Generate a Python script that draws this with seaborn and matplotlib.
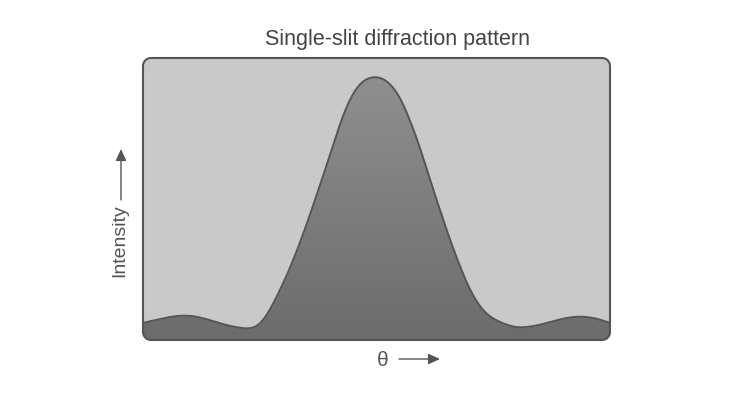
import numpy as np
import pandas as pd
import matplotlib
matplotlib.use("Agg")
import matplotlib.pyplot as plt
import seaborn as sns
from matplotlib.path import Path
from matplotlib.patches import PathPatch, FancyArrowPatch
from matplotlib.colors import LinearSegmentedColormap

# ---- data ----
theta = [-1.000, -0.927, -0.842, -0.777, -0.713, -0.649, -0.585, -0.542, -0.499,
         -0.456, -0.413, -0.370, -0.328, -0.285, -0.242, -0.199, -0.156, -0.113,
         -0.071, -0.028, 0.015, 0.058, 0.101, 0.143, 0.186, 0.229, 0.272, 0.315,
         0.358, 0.400, 0.443, 0.486, 0.529, 0.572, 0.615, 0.679, 0.743, 0.807,
         0.872, 0.936, 1.000]
intensity = [0.065, 0.080, 0.095, 0.091, 0.076, 0.057, 0.046, 0.042, 0.057,
             0.114, 0.190, 0.274, 0.369, 0.475, 0.589, 0.703, 0.825, 0.920,
             0.977, 1.000, 1.000, 0.977, 0.924, 0.837, 0.734, 0.608, 0.494, 0.380,
             0.278, 0.190, 0.125, 0.087, 0.068, 0.053, 0.046, 0.053, 0.068, 0.084,
             0.091, 0.084, 0.065]
title_text = "Single-slit diffraction pattern"
x_label = "θ"
y_label = "Intensity"


def basis_curve(xs, ys, n=12):
    """Render points with a uniform cubic B-spline (like d3.curveBasis)."""
    P = np.column_stack([xs, ys]).astype(float)
    P = np.vstack([P[:1], P[:1], P, P[-1:], P[-1:]])
    t = np.linspace(0, 1, n, endpoint=False)[:, None]
    out = []
    for i in range(len(P) - 3):
        p0, p1, p2, p3 = P[i], P[i + 1], P[i + 2], P[i + 3]
        b0 = (1 - t) ** 3 / 6
        b1 = (3 * t ** 3 - 6 * t ** 2 + 4) / 6
        b2 = (-3 * t ** 3 + 3 * t ** 2 + 3 * t + 1) / 6
        b3 = t ** 3 / 6
        out.append(b0 * p0 + b1 * p1 + b2 * p2 + b3 * p3)
    out.append(P[-1:])
    out = np.vstack(out)
    return out[:, 0], out[:, 1]


sx, sy = basis_curve(theta, intensity)
curve = pd.DataFrame({"theta": sx, "intensity": sy})

W, H = 750, 393
fig = plt.figure(figsize=(W / 100, H / 100), dpi=100)
fig.patch.set_facecolor("white")
L, R, T, B = 143, 610, 58, 340
ax = fig.add_axes([L / W, (H - B) / H, (R - L) / W, (B - T) / H])

ymax = 1.0722

# rounded box path in axes coords (circular corners in pixels)
r = 8.0
rx, ry = r / (R - L), r / (B - T)
def arc(cx, cy, a0, a1, n=16):
    a = np.linspace(np.radians(a0), np.radians(a1), n)
    return [(cx + rx * np.cos(t), cy + ry * np.sin(t)) for t in a]
pts = []
pts += arc(1 - rx, ry, -90, 0)
pts += arc(1 - rx, 1 - ry, 0, 90)
pts += arc(rx, 1 - ry, 90, 180)
pts += arc(rx, ry, 180, 270)
pts.append(pts[0])
box_path = Path(pts)
clip_patch = PathPatch(box_path, transform=ax.transAxes, facecolor="none",
                       edgecolor="none")
ax.add_patch(clip_patch)

# gradient under the curve
cmap = LinearSegmentedColormap.from_list("g", ["#6c6c6c", "#8f8f8f"])
grad = np.linspace(0, 1, 256).reshape(-1, 1)
im = ax.imshow(grad, extent=[-1, 1, 0, 1.0], origin="lower", aspect="auto",
               cmap=cmap, interpolation="bilinear", zorder=1)
im.set_clip_path(clip_patch)

# light region above the curve
fb = ax.fill_between(curve["theta"], curve["intensity"], ymax + 0.1,
                     color="#c9c9c9", lw=0, zorder=2)
fb.set_clip_path(clip_patch)

sns.lineplot(data=curve, x="theta", y="intensity", ax=ax, color="#555555",
             lw=1.4, sort=False, zorder=3, estimator=None)
ax.set_axis_off()
ax.set_xlim(-1, 1)
ax.set_ylim(0, ymax)

edge = PathPatch(box_path, transform=ax.transAxes, facecolor="none",
                 edgecolor="#555555", lw=1.5, zorder=4, clip_on=False)
ax.add_patch(edge)

font = ["Liberation Sans", "DejaVu Sans"]
fig.text(398 / W, 1 - 45 / H, title_text, ha="center", va="baseline",
         fontsize=15.5, color="#444444", family=font)

# y label with arrow
fig.text(120 / W, 1 - 241 / H, y_label, rotation=90, ha="center", va="center",
         fontsize=14, color="#555555", family=font)
fig.add_artist(FancyArrowPatch(
    (121 / W, 1 - 200 / H), (121 / W, 1 - 149 / H), transform=fig.transFigure,
    arrowstyle="-|>,head_length=3.5,head_width=1.6", color="#555555", lw=1.0,
    mutation_scale=2, shrinkA=0, shrinkB=0))

# x label with arrow
fig.text(383 / W, 1 - 360 / H, x_label, ha="center", va="center",
         fontsize=15, color="#555555", family=font)
fig.add_artist(FancyArrowPatch(
    (399 / W, 1 - 359 / H), (440 / W, 1 - 359 / H), transform=fig.transFigure,
    arrowstyle="-|>,head_length=3.5,head_width=1.6", color="#555555", lw=1.0,
    mutation_scale=2, shrinkA=0, shrinkB=0))

fig.savefig("out.png", dpi=100, facecolor="white")
